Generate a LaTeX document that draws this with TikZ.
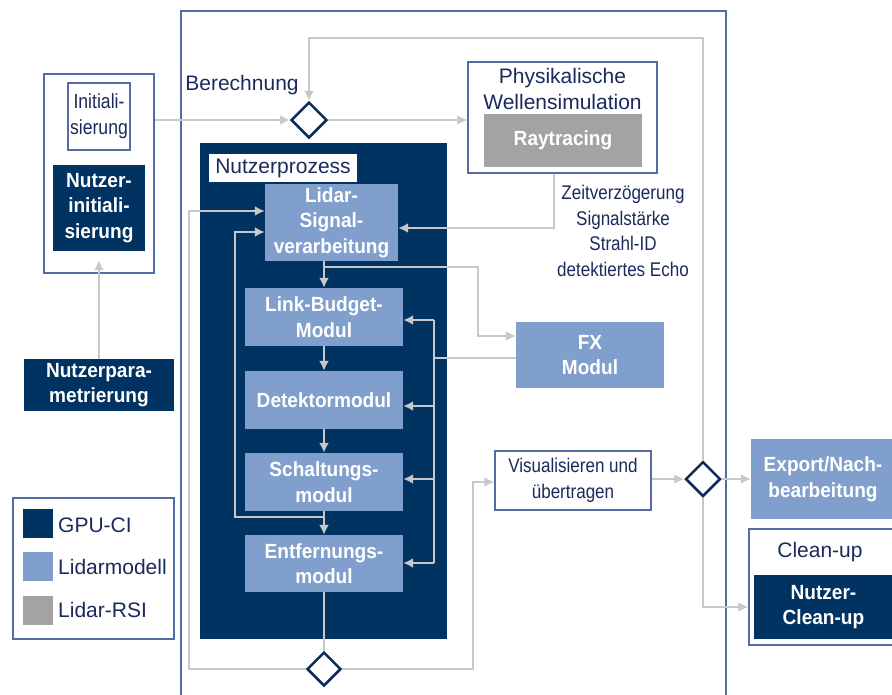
\documentclass[tikz,border=0pt]{standalone}
\usepackage{fontspec}
\setmainfont{Liberation Sans}
\newfontfamily\condf{Liberation Sans}[FakeStretch=0.86]
\newfontfamily\bcond{Liberation Sans}[FakeStretch=0.93]
\usetikzlibrary{arrows.meta,shapes.geometric,calc}
\definecolor{navy}{RGB}{0,50,98}
\definecolor{lblue}{RGB}{128,159,204}
\definecolor{rgray}{RGB}{163,163,163}
\definecolor{lgray}{RGB}{200,200,200}
\definecolor{fblue}{RGB}{84,108,164}
\definecolor{tnavy}{RGB}{27,42,92}
\definecolor{dstroke}{RGB}{13,44,92}
\tikzset{
  gline/.style={draw=lgray, line width=2pt},
  garr/.style={gline, -{Latex[length=10pt,width=10pt]}},
  wbox/.style={draw=fblue, line width=1.3pt, fill=white, inner sep=0},
  dbox/.style={fill=navy, text=white, font=\bcond\bfseries\fontsize{20.5}{25.5}\selectfont, align=center, inner sep=0},
  lbox/.style={fill=lblue, text=white, font=\bcond\bfseries\fontsize{20.5}{25.5}\selectfont, align=center, inner sep=0},
  dia/.style={diamond, draw=dstroke, line width=2.5pt, fill=white, minimum width=36pt, minimum height=36pt, inner sep=0},
  txt/.style={text=tnavy, font=\fontsize{21}{26}\selectfont, inner sep=0, align=center},
  ctxt/.style={text=tnavy, font=\condf\fontsize{19.8}{25.5}\selectfont, inner sep=0, align=center},
  swatch/.style={minimum width=30pt, minimum height=29pt, inner sep=0}
}
\begin{document}
\begin{tikzpicture}[x=1pt,y=-1pt]
\path[use as bounding box] (0,0) rectangle (892,694);
\clip (0,0) rectangle (892,694);

% outer frame (open at bottom)
\draw[draw=fblue, line width=1.3pt] (181,700) -- (181,11) -- (726,11) -- (726,700);

% left initialisation block
\node[wbox, minimum width=110pt, minimum height=199pt] (initbox) at (99,173.5) {};
\node[wbox, minimum width=62pt, minimum height=67pt, ctxt, font=\condf\fontsize{20.5}{26}\selectfont] (initlbl) at (99,116.5) {Initiali-\\sierung};
\node[dbox, minimum width=92pt, minimum height=86pt] (ninit) at (99,208) {Nutzer-\\initiali-\\sierung};
\node[dbox, minimum width=150pt, minimum height=52pt] (npar) at (99,385) {Nutzerpara-\\metrierung};

% legend
\node[wbox, minimum width=161pt, minimum height=141pt] (lg) at (93.5,568.5) {};
\node[swatch, fill=navy] (sw1) at (38,523.5) {};
\node[swatch, fill=lblue] (sw2) at (38,566.5) {};
\node[swatch, fill=rgray] (sw3) at (38,610) {};
\node[txt, anchor=west] (lt1) at (58,525) {GPU-CI};
\node[txt, anchor=west] (lt2) at (58,567) {Lidarmodell};
\node[txt, anchor=west] (lt3) at (58,610) {Lidar-RSI};

% Berechnung
\node[txt] (ber) at (242,85.5) {Berechnung};

% physical simulation
\node[wbox, minimum width=189pt, minimum height=111pt] (phys) at (562.5,117.5) {};
\node[txt] (phystxt) at (562.5,89) {Physikalische\\Wellensimulation};
\node[fill=rgray, text=white, font=\bcond\bfseries\fontsize{20.5}{25}\selectfont, minimum width=158pt, minimum height=53pt, inner sep=0] (ray) at (563,140.5) {Raytracing};
\node[ctxt] (zeit) at (623,231) {Zeitverzögerung\\Signalstärke\\Strahl-ID\\detektiertes Echo};

% user process
\node[fill=navy, minimum width=247pt, minimum height=496pt, inner sep=0] (nproc) at (323.5,391) {};
\node[fill=white, txt, minimum width=148pt, minimum height=28pt] (nplbl) at (283,168) {Nutzerprozess};
\node[lbox, minimum width=133pt, minimum height=77pt] (lidar) at (331.5,222.5) {Lidar-\\Signal-\\verarbeitung};
\node[lbox, minimum width=158pt, minimum height=58pt] (lb) at (324,317) {Link-Budget-\\Modul};
\node[lbox, minimum width=158pt, minimum height=58pt] (det) at (324,400) {Detektormodul};
\node[lbox, minimum width=158pt, minimum height=58pt] (sch) at (324,482) {Schaltungs-\\modul};
\node[lbox, minimum width=158pt, minimum height=57pt] (ent) at (324,563.5) {Entfernungs-\\modul};

% FX and visualisation
\node[lbox, minimum width=148pt, minimum height=66pt] (fx) at (590,355) {FX\\Modul};
\node[wbox, ctxt, minimum width=156pt, minimum height=59pt] (vis) at (573,480.5) {Visualisieren und\\übertragen};

% right side
\node[lbox, minimum width=144pt, minimum height=80pt] (exp) at (823,479) {Export/Nach-\\bearbeitung};
\node[wbox, minimum width=149pt, minimum height=116pt] (clean) at (823.5,587) {};
\node[txt] (cleantxt) at (820,552.5) {Clean-up};
\node[dbox, minimum width=139pt, minimum height=64pt] (nclean) at (823.5,607) {Nutzer-\\Clean-up};

% diamonds
\node[dia] (d1) at (309,120) {};
\node[dia, minimum width=34pt, minimum height=34pt] (d2) at (324,669) {};
\node[dia, minimum width=35pt, minimum height=35pt] (d3) at (703,479) {};

% helper coordinates
\coordinate (tl) at (309,38);
\coordinate (j1) at (324,267);
\coordinate (j2) at (324,517);
\coordinate (busT) at (434,320);
\coordinate (busD) at (434,406);
\coordinate (busS) at (434,479);
\coordinate (busB) at (434,563);

% connectors
\draw[garr, shorten >=9pt] (npar.north) -- (ninit.south);
\draw[garr] (initbox.east |- d1.west) -- (d1.west);
\draw[garr] (d1.east) -- (d1.east -| phys.west);
\draw[garr] (d3.north) |- (tl) -- (d1.north);
\draw[garr] ([xshift=-8.5pt]phys.south) |- ([yshift=-5.5pt]lidar.east);
\draw[garr] (lidar.south -| lb.north) -- (lb.north);
\draw[garr] (lb.south) -- (det.north);
\draw[garr] (det.south) -- (sch.north);
\draw[garr] (sch.south) -- (ent.north);
\draw[garr] (j1) -| ([xshift=-38pt,yshift=19pt]fx.west) -- ([yshift=19pt]fx.west);
\draw[gline] ([yshift=-3pt]fx.west) -- ([yshift=-3pt]fx.west -| busT);
\draw[gline] (busT) -- (busB);
\draw[garr] (busT) -- (busT -| lb.east);
\draw[garr] (busD) -- (busD -| det.east);
\draw[garr] (busS) -- (busS -| sch.east);
\draw[garr] (busB) -- (busB -| ent.east);
\draw[garr] (j2) -| ([xshift=-30pt,yshift=-9.5pt]lidar.west) -- ([yshift=-9.5pt]lidar.west);
\draw[gline] (ent.south) -- (d2.north);
\draw[garr] (d2.west) -| ([xshift=-76pt,yshift=11.5pt]lidar.west) -- ([yshift=11.5pt]lidar.west);
\draw[garr] (d2.east) -| ([xshift=-21pt,yshift=-1.5pt]vis.west) -- ([yshift=-1.5pt]vis.west);
\draw[garr] (vis.east |- d3.west) -- (d3.west);
\draw[garr] (d3.east) -- (d3.east -| exp.west);
\draw[garr] (d3.south) |- ([yshift=-20pt]clean.west);
\end{tikzpicture}
\end{document}
